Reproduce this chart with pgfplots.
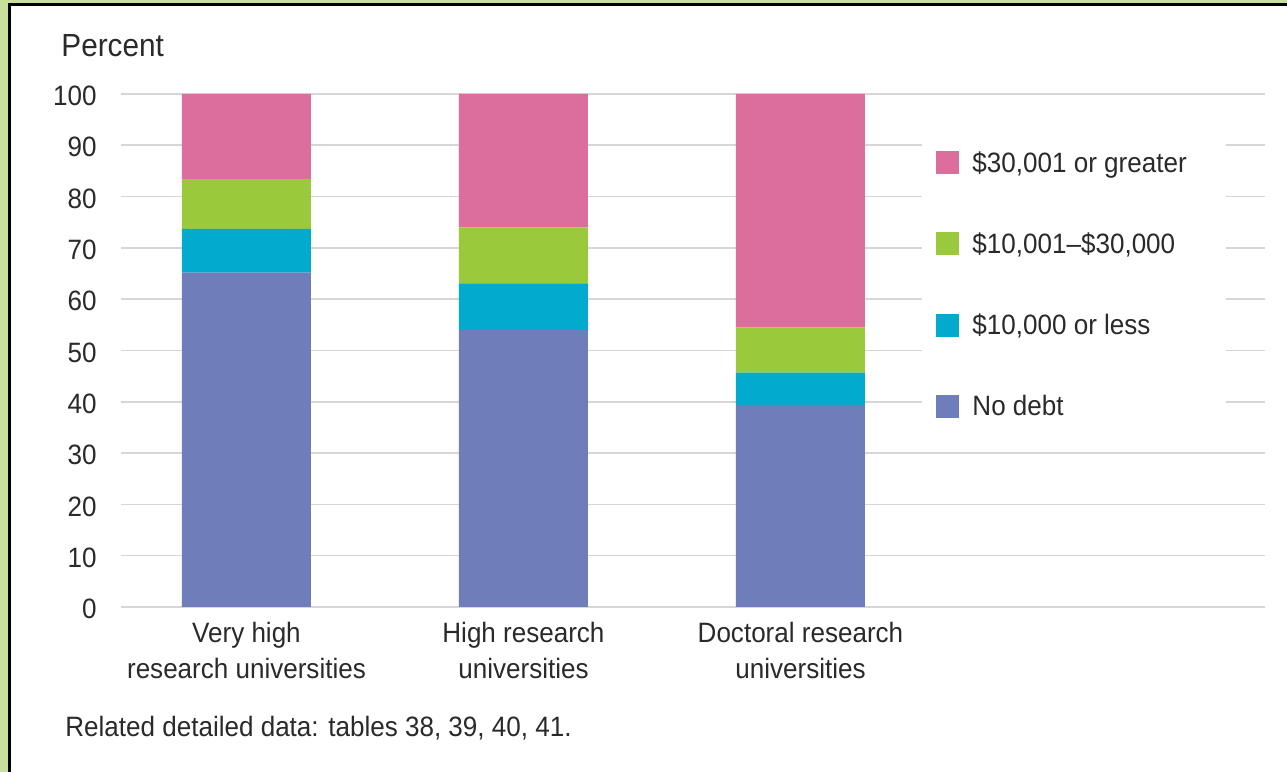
\documentclass[border=0pt]{standalone}
\usepackage{fontspec}
\setmainfont[FakeStretch=0.93]{Liberation Sans}
\usepackage{pgfplots}
\pgfplotsset{compat=1.18}
\definecolor{cPink}{HTML}{DB6E9C}
\definecolor{cGreen}{HTML}{9BC93C}
\definecolor{cCyan}{HTML}{02AACE}
\definecolor{cBlue}{HTML}{6F7DBB}
\definecolor{cText}{HTML}{2A2A2A}
\definecolor{cGrid}{HTML}{D6D6D6}
\definecolor{cBg}{HTML}{C9E09B}
\begin{document}
\begin{tikzpicture}
\useasboundingbox (0pt,0pt) rectangle (643.5pt,386pt);
\begin{scope}
\clip (0pt,0pt) rectangle (643.5pt,386pt);
\fill[cBg] (0pt,0pt) rectangle (643.5pt,386pt);
\filldraw[fill=white, draw=black, line width=1.5pt] (4.5pt,-10pt) rectangle (660pt,383.5pt);
\end{scope}
\begin{axis}[
  at={(60.5pt,82.5pt)}, anchor=south west, scale only axis,
  width=572pt, height=256.5pt,
  xmin=-0.453, xmax=3.677, ymin=0, ymax=100,
  ybar stacked, bar width=64.5pt,
  xtick={0,1,2},
  xticklabels={{Very high\\research universities},{High research\\universities},{Doctoral research\\universities}},
  ytick={0,10,...,100},
  ymajorgrids, major grid style={cGrid, line width=0.8pt},
  axis line style={draw=none}, major tick length=0pt,
  tick label style={font=\fontsize{14}{18}\selectfont, text=cText, inner sep=0pt},
  xticklabel style={align=center, yshift=-7.5pt},
  yticklabel style={anchor=east, xshift=-12pt, yshift=-1pt},
  /pgf/number format/assume math mode=true,
  legend style={at={(axis description cs:0.7,0.928)}, anchor=north west,
    draw=none, fill=white, inner xsep=7pt, inner ysep=10pt,
    font=\fontsize{14}{18}\selectfont, text=cText, row sep=27.05pt,
    nodes={inner sep=0pt, text height=10pt, text depth=3pt},
    /tikz/every odd column/.append style={column sep=6.65pt}},
  legend cell align=left,
  legend image code/.code={\fill[#1] (0pt,-4.5pt) rectangle (11.5pt,7pt);},
  reverse legend,
]
\addplot[fill=cBlue, draw=none] coordinates {(0,65.2) (1,54.0) (2,39.4)};
\addlegendentry{No debt}
\addplot[fill=cCyan, draw=none] coordinates {(0,8.5) (1,9.1) (2,6.3)};
\addlegendentry{\$10,000 or less}
\addplot[fill=cGreen, draw=none] coordinates {(0,9.7) (1,10.9) (2,8.8)};
\addlegendentry{\$10,001–\$30,000}
\addplot[fill=cPink, draw=none] coordinates {(0,16.6) (1,26.0) (2,45.5)};
\addlegendentry{\$30,001 or greater\rule{12.5pt}{0pt}}
\end{axis}
\node[anchor=base west, inner sep=0pt, text=cText, font=\fontsize{16}{18}\selectfont] at (30.5pt,357.5pt) {Percent};
\node[anchor=base west, inner sep=0pt, text=cText, font=\fontsize{14}{18}\selectfont] at (32.5pt,17.5pt) {Related detailed data: tables 38, 39, 40, 41.};
\end{tikzpicture}
\end{document}
